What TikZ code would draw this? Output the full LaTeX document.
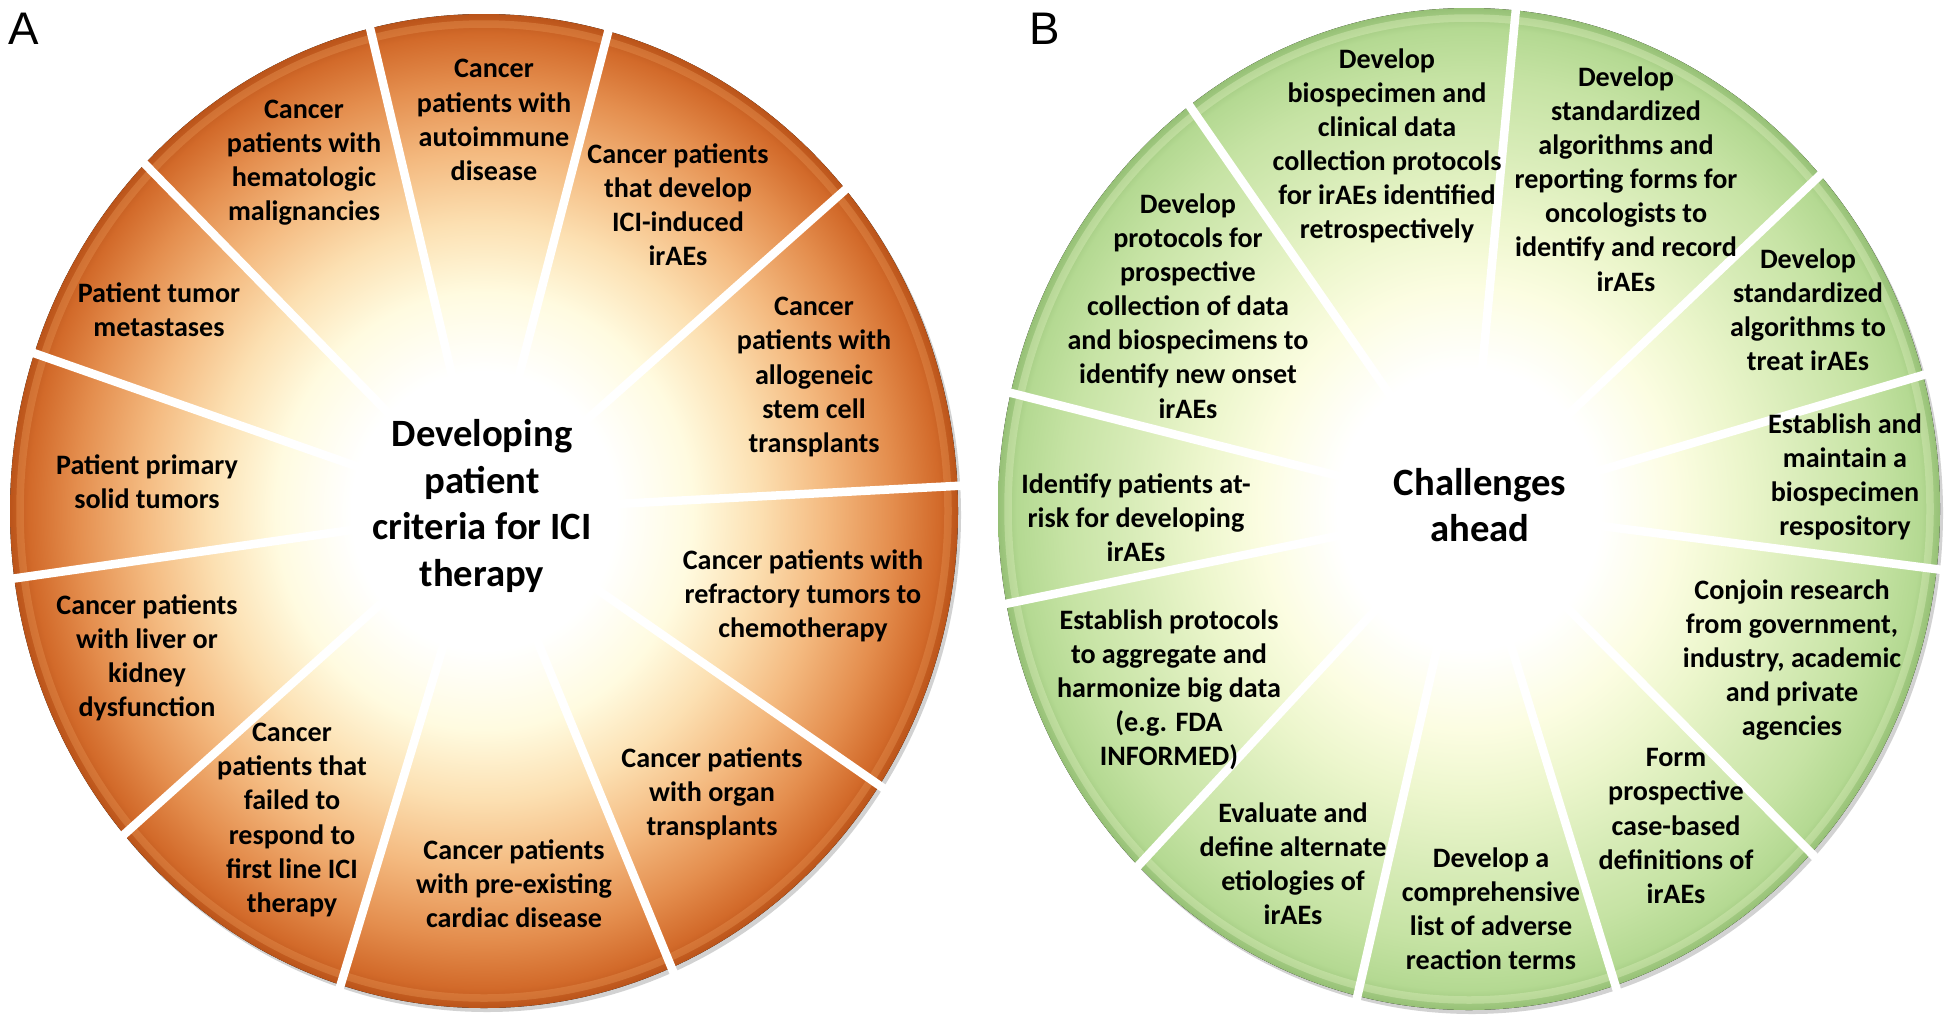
\documentclass[tikz,border=0pt]{standalone}
\usepackage{fontspec}
\setmainfont{Carlito}
\newfontfamily\panelfont{Liberation Sans}
\usepackage{tikz}

% colours of the two wheels
\definecolor{orA1}{RGB}{255,251,224}
\definecolor{orA2}{RGB}{252,224,178}
\definecolor{orA3}{RGB}{244,186,128}
\definecolor{orA4}{RGB}{228,142,78}
\definecolor{orA5}{RGB}{210,106,42}
\definecolor{orA6}{RGB}{186,84,26}
\definecolor{grB1}{RGB}{252,253,226}
\definecolor{grB2}{RGB}{236,246,204}
\definecolor{grB3}{RGB}{216,236,184}
\definecolor{grB4}{RGB}{198,227,164}
\definecolor{grB5}{RGB}{180,217,146}
\definecolor{grB6}{RGB}{150,192,118}

\pgfdeclareradialshading{orangewheel}{\pgfpoint{0bp}{0bp}}{%
  color(0bp)=(white); color(7bp)=(white); color(11bp)=(orA1); color(14.5bp)=(orA2);
  color(18bp)=(orA3); color(21.5bp)=(orA4); color(24bp)=(orA5); color(25bp)=(orA6); color(50bp)=(orA6)}
\pgfdeclareradialshading{greenwheel}{\pgfpoint{0bp}{0bp}}{%
  color(0bp)=(white); color(7bp)=(white); color(11bp)=(grB1); color(14.5bp)=(grB2);
  color(18bp)=(grB3); color(21.5bp)=(grB4); color(24bp)=(grB5); color(25bp)=(grB6); color(50bp)=(grB6)}

\tikzset{
    wedge text/.style={align=center, inner sep=0pt, font=\fontsize{16}{19.4}\selectfont\bfseries}, % text in a wedge
    hub text/.style={align=center, inner sep=0pt, font=\fontsize{22}{26.5}\selectfont\bfseries}, % text in the middle
    divider/.style={white, line width=1.7mm, line cap=butt}, % white gap between wedges
    panel label/.style={inner sep=0pt, font=\panelfont\fontsize{26}{26}\selectfont}
}

\begin{document}
\begin{tikzpicture}[x=0.2mm, y=-0.2mm]

    \useasboundingbox (0,0) rectangle (1950,1026);

    % wheel A
    \def\cxA{484} \def\cyA{511} \def\rxA{474} \def\ryA{497}
    \fill[black!35, opacity=0.5] (\cxA+3,\cyA+4) ellipse [x radius=\rxA, y radius=\ryA];
    \fill[shading=orangewheel] (\cxA,\cyA) ellipse [x radius=\rxA, y radius=\ryA];
    \draw[orA4, line width=1.5mm, opacity=0.45] (\cxA,\cyA) ellipse [x radius=\rxA-10, y radius=\ryA-10];
    \foreach \t in {2.9,40.3,74.8,103.9,135.7,161.5,187.8,220.6,252.4,293.3,326.5}
        \draw[divider] ({\cxA+0.22*\rxA*cos(\t)},{\cyA-0.22*\ryA*sin(\t)}) -- ({\cxA+1.05*\rxA*cos(\t)},{\cyA-1.05*\ryA*sin(\t)});

    \node[hub text] (criteria) at (482,506) {Developing\\patient\\criteria for ICI\\therapy};
    \node[wedge text] (autoimmune) at (494,120) {Cancer\\patients with\\autoimmune\\disease};
    \node[wedge text] (induced) at (678,205) {Cancer patients\\that develop\\ICI-induced\\irAEs};
    \node[wedge text] (allogeneic) at (814,377) {Cancer\\patients with\\allogeneic\\stem cell\\transplants};
    \node[wedge text] (refractory) at (803,596) {Cancer patients with\\refractory tumors to\\chemotherapy};
    \node[wedge text] (organ) at (712,794) {Cancer patients\\with organ\\transplants};
    \node[wedge text] (cardiac) at (514,884) {Cancer patients\\with pre-existing\\cardiac disease};
    \node[wedge text] (failed) at (292,820) {Cancer\\patients that\\failed to\\respond to\\first line ICI\\therapy};
    \node[wedge text] (liver) at (147,658) {Cancer patients\\with liver or\\kidney\\dysfunction};
    \node[wedge text] (primary) at (147,482) {Patient primary\\solid tumors};
    \node[wedge text] (metastases) at (159,310) {Patient tumor\\metastases};
    \node[wedge text] (hematologic) at (304,163) {Cancer\\patients with\\hematologic\\malignancies};

    % wheel B
    \def\cxB{1469} \def\cyB{509} \def\rxB{471} \def\ryB{501}
    \fill[black!35, opacity=0.5] (\cxB+3,\cyB+4) ellipse [x radius=\rxB, y radius=\ryB];
    \fill[shading=greenwheel] (\cxB,\cyB) ellipse [x radius=\rxB, y radius=\ryB];
    \draw[grB3, line width=1.5mm, opacity=0.45] (\cxB,\cyB) ellipse [x radius=\rxB-10, y radius=\ryB-10];
    \foreach \t in {15.5,41.8,84.3,126.4,166.6,190.9,225.4,256.3,288.1,316.6,353.1}
        \draw[divider] ({\cxB+0.22*\rxB*cos(\t)},{\cyB-0.22*\ryB*sin(\t)}) -- ({\cxB+1.05*\rxB*cos(\t)},{\cyB-1.05*\ryB*sin(\t)});

    \node[hub text] (challenges) at (1480,505) {Challenges\\ahead};
    \node[wedge text] (retro) at (1387,146) {Develop\\biospecimen and\\clinical data\\collection protocols\\for irAEs identified\\retrospectively};
    \node[wedge text] (reporting) at (1626,179) {Develop\\standardized\\algorithms and\\reporting forms for\\oncologists to\\identify and record\\irAEs};
    \node[wedge text] (treat) at (1808,310) {Develop\\standardized\\algorithms to\\treat irAEs};
    \node[wedge text] (repository) at (1845,477) {Establish and\\maintain a\\biospecimen\\respository};
    \node[wedge text] (conjoin) at (1792,660) {Conjoin research\\from government,\\industry, academic\\and private\\agencies};
    \node[wedge text] (casebased) at (1676,826) {Form\\prospective\\case-based\\definitions of\\irAEs};
    \node[wedge text] (terms) at (1491,909) {Develop a\\comprehensive\\list of adverse\\reaction terms};
    \node[wedge text] (etiologies) at (1293,864) {Evaluate and\\define alternate\\etiologies of\\irAEs};
    \node[wedge text] (bigdata) at (1169,690) {Establish protocols\\to aggregate and\\harmonize big data\\(e.g. FDA\\INFORMED)};
    \node[wedge text] (atrisk) at (1136,518) {Identify patients at-\\risk for developing\\irAEs};
    \node[wedge text] (prospective) at (1188,306) {Develop\\protocols for\\prospective\\collection of data\\and biospecimens to\\identify new onset\\irAEs};

    \node[panel label] (labelA) at (24,29) {A};
    \node[panel label] (labelB) at (1045,29) {B};
\end{tikzpicture}
\end{document}
